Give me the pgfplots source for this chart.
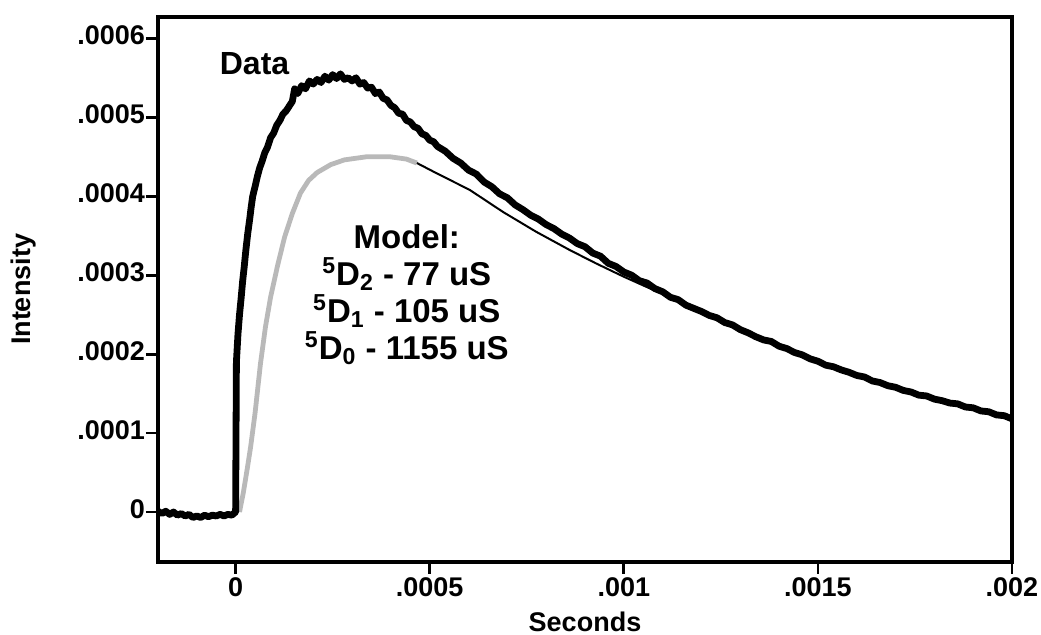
\documentclass[border=0pt]{standalone}
\usepackage{pgfplots}
\pgfplotsset{compat=1.18}
\usepackage{fontspec}
\setmainfont{Liberation Sans}
\begin{document}
\begin{tikzpicture}
\begin{axis}[
  scale only axis, width=427pt, height=272.5pt,
  xmin=-0.0002, xmax=0.002, ymin=-0.0000633, ymax=0.000627,
  axis line style={line width=2pt},
  tick align=outside, xtick pos=bottom, ytick pos=left,
  major tick length=6pt,
  tick style={line width=1.4pt, black},
  xtick={0,0.0005,0.001,0.0015,0.002},
  xticklabels={0,.0005,.001,.0015,.002},
  ytick={0,0.0001,0.0002,0.0003,0.0004,0.0005,0.0006},
  yticklabels={0,.0001,.0002,.0003,.0004,.0005,.0006},
  scaled ticks=false,
  ticklabel style={font=\bfseries\fontsize{13.5}{15}\selectfont},
  x tick label style={inner sep=1.5pt},
  y tick label style={inner sep=0.3pt, yshift=1.5pt},
  xlabel={Seconds}, ylabel={Intensity},
  label style={font=\bfseries\fontsize{13.5}{16}\selectfont},
  xlabel style={at={(axis description cs:0.5,-0.110)}, anchor=center, inner sep=1pt},
  ylabel style={at={(axis description cs:-0.158,0.5)}, anchor=center},
  clip=true,
]
% model, rising part (grey, thick)
\addplot[gray!55, line width=2.4pt, line join=round] coordinates {
(0.010e-3,0.00e-4) (0.020e-3,0.25e-4) (0.030e-3,0.55e-4) (0.0385e-3,0.82e-4)
(0.050e-3,1.25e-4) (0.064e-3,1.88e-4) (0.077e-3,2.35e-4) (0.090e-3,2.72e-4)
(0.108e-3,3.12e-4) (0.126e-3,3.48e-4) (0.146e-3,3.78e-4) (0.167e-3,4.04e-4)
(0.188e-3,4.20e-4) (0.210e-3,4.30e-4) (0.245e-3,4.40e-4) (0.280e-3,4.46e-4)
(0.338e-3,4.50e-4) (0.397e-3,4.50e-4) (0.440e-3,4.47e-4) (0.467e-3,4.42e-4)
};
% model, decay part (black, thin)
\addplot[black, line width=1pt, line join=round] coordinates {
(0.467e-3,4.42e-4) (0.518e-3,4.29e-4) (0.603e-3,4.08e-4) (0.689e-3,3.80e-4)
(0.774e-3,3.55e-4) (0.860e-3,3.32e-4) (0.928e-3,3.15e-4) (1.000e-3,2.98e-4)
(1.100e-3,2.76e-4) (1.200e-3,2.52e-4) (1.300e-3,2.30e-4) (1.400e-3,2.10e-4)
(1.500e-3,1.91e-4) (1.600e-3,1.74e-4) (1.700e-3,1.58e-4) (1.800e-3,1.44e-4)
(1.900e-3,1.31e-4) (2.000e-3,1.19e-4)
};
% data
\addplot[black, line width=3.4pt, line join=round] coordinates {
(-0.20e-3,0.01e-4) (-0.19e-3,-0.02e-4) (-0.18e-3,0.01e-4) (-0.17e-3,-0.03e-4)
(-0.16e-3,0.00e-4) (-0.15e-3,-0.04e-4) (-0.14e-3,-0.02e-4) (-0.13e-3,-0.05e-4)
(-0.12e-3,-0.03e-4) (-0.11e-3,-0.07e-4) (-0.10e-3,-0.05e-4) (-0.09e-3,-0.07e-4)
(-0.08e-3,-0.04e-4) (-0.07e-3,-0.06e-4) (-0.06e-3,-0.04e-4) (-0.05e-3,-0.05e-4)
(-0.04e-3,-0.03e-4) (-0.03e-3,-0.05e-4) (-0.02e-3,-0.03e-4) (-0.01e-3,-0.04e-4) (0,0)
(0.002e-3,1.90e-4) (0.006e-3,2.25e-4) (0.010e-3,2.50e-4) (0.014e-3,2.70e-4)
(0.018e-3,2.92e-4) (0.022e-3,3.10e-4) (0.026e-3,3.30e-4) (0.031e-3,3.52e-4)
(0.036e-3,3.70e-4) (0.040e-3,3.86e-4) (0.044e-3,4.00e-4) (0.050e-3,4.12e-4)
(0.056e-3,4.25e-4) (0.062e-3,4.36e-4) (0.068e-3,4.44e-4) (0.075e-3,4.55e-4)
(0.082e-3,4.62e-4) (0.090e-3,4.74e-4) (0.098e-3,4.80e-4) (0.106e-3,4.90e-4)
(0.114e-3,4.96e-4) (0.122e-3,5.04e-4) (0.130e-3,5.08e-4) (0.138e-3,5.14e-4)
(0.146e-3,5.20e-4) (0.152e-3,5.36e-4) (0.160e-3,5.30e-4) (0.170e-3,5.40e-4)
(0.180e-3,5.36e-4) (0.190e-3,5.46e-4) (0.200e-3,5.42e-4) (0.210e-3,5.48e-4)
(0.220e-3,5.44e-4) (0.230e-3,5.52e-4) (0.240e-3,5.47e-4) (0.250e-3,5.54e-4)
(0.260e-3,5.49e-4) (0.270e-3,5.55e-4) (0.280e-3,5.48e-4) (0.290e-3,5.50e-4)
(0.300e-3,5.46e-4) (0.310e-3,5.50e-4) (0.320e-3,5.42e-4) (0.330e-3,5.44e-4)
(0.340e-3,5.37e-4) (0.350e-3,5.38e-4) (0.360e-3,5.30e-4) (0.370e-3,5.32e-4)
(0.380e-3,5.24e-4) (0.390e-3,5.22e-4) (0.400e-3,5.15e-4) (0.410e-3,5.12e-4)
(0.420e-3,5.05e-4) (0.430e-3,5.04e-4) (0.440e-3,4.96e-4) (0.450e-3,4.94e-4)
(0.460e-3,4.88e-4) (0.470e-3,4.86e-4) (0.480e-3,4.79e-4) (0.490e-3,4.77e-4)
(0.500e-3,4.71e-4) (0.510e-3,4.69e-4) (0.520e-3,4.63e-4) (0.540e-3,4.57e-4)
(0.560e-3,4.48e-4) (0.580e-3,4.42e-4) (0.600e-3,4.33e-4) (0.620e-3,4.28e-4)
(0.640e-3,4.18e-4) (0.660e-3,4.12e-4) (0.680e-3,4.03e-4) (0.700e-3,3.98e-4)
(0.720e-3,3.89e-4) (0.740e-3,3.83e-4) (0.760e-3,3.76e-4) (0.780e-3,3.71e-4)
(0.800e-3,3.64e-4) (0.820e-3,3.59e-4) (0.840e-3,3.52e-4) (0.860e-3,3.47e-4)
(0.880e-3,3.40e-4) (0.900e-3,3.36e-4) (0.920e-3,3.28e-4) (0.940e-3,3.24e-4)
(0.960e-3,3.15e-4) (0.980e-3,3.11e-4) (1.000e-3,3.04e-4) (1.020e-3,3.00e-4)
(1.040e-3,2.93e-4) (1.060e-3,2.90e-4) (1.080e-3,2.83e-4) (1.100e-3,2.79e-4)
(1.120e-3,2.72e-4) (1.140e-3,2.69e-4) (1.160e-3,2.62e-4) (1.180e-3,2.58e-4)
(1.200e-3,2.54e-4) (1.220e-3,2.49e-4) (1.240e-3,2.46e-4) (1.260e-3,2.40e-4)
(1.280e-3,2.37e-4) (1.300e-3,2.31e-4) (1.320e-3,2.27e-4) (1.340e-3,2.22e-4)
(1.360e-3,2.18e-4) (1.380e-3,2.16e-4) (1.400e-3,2.10e-4) (1.420e-3,2.07e-4)
(1.440e-3,2.02e-4) (1.460e-3,1.99e-4) (1.480e-3,1.94e-4) (1.500e-3,1.91e-4)
(1.520e-3,1.86e-4) (1.540e-3,1.84e-4) (1.560e-3,1.80e-4) (1.580e-3,1.77e-4)
(1.600e-3,1.73e-4) (1.620e-3,1.71e-4) (1.640e-3,1.66e-4) (1.660e-3,1.64e-4)
(1.680e-3,1.60e-4) (1.700e-3,1.58e-4) (1.720e-3,1.54e-4) (1.740e-3,1.52e-4)
(1.760e-3,1.48e-4) (1.780e-3,1.47e-4) (1.800e-3,1.43e-4) (1.820e-3,1.41e-4)
(1.840e-3,1.38e-4) (1.860e-3,1.37e-4) (1.880e-3,1.33e-4) (1.900e-3,1.32e-4)
(1.920e-3,1.28e-4) (1.940e-3,1.27e-4) (1.960e-3,1.23e-4) (1.980e-3,1.22e-4)
(2.000e-3,1.18e-4)
};
\node[font=\bfseries\fontsize{16}{18}\selectfont] at (axis cs:0.0000487,0.000568) {Data};
\node[font=\bfseries\fontsize{16.5}{18.5}\selectfont, align=center] at (axis cs:0.000441,0.000275)
  {Model:\\\textsuperscript{5}D\textsubscript{2} - 77 uS\\\textsuperscript{5}D\textsubscript{1} - 105 uS\\\textsuperscript{5}D\textsubscript{0} - 1155 uS};
\end{axis}
\pgfresetboundingbox
\path[use as bounding box] (-79pt,-36.5pt) rectangle (441.5pt,281pt);
\end{tikzpicture}
\end{document}
